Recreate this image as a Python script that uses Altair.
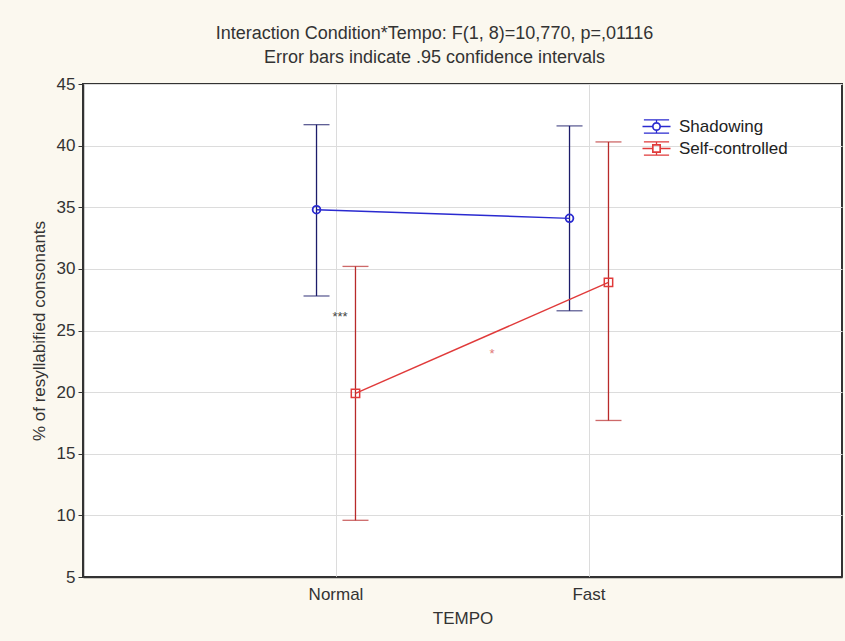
import altair as alt
import pandas as pd

tempo = ["Normal", "Fast"]
conditions = ["Shadowing", "Self-controlled"]

shadowing_mean = [34.8, 34.1]
shadowing_low = [27.8, 26.6]
shadowing_high = [41.7, 41.6]

self_mean = [19.9, 28.9]
self_low = [9.6, 17.7]
self_high = [30.2, 40.3]

y_ticks = [5, 10, 15, 20, 25, 30, 35, 40, 45]

annot1_text = ["***"]
annot1_tempo = ["Normal"]
annot1_y = [26.3]
annot2_text = ["*"]
annot2_tempo = ["Fast"]
annot2_y = [23.3]

title_lines = [
    "Interaction Condition*Tempo: F(1, 8)=10,770, p=,01116",
    "Error bars indicate .95 confidence intervals",
]
y_title = "% of resyllabified consonants"
x_title = "TEMPO"

# build table
rows = []
for cond, means, lows, highs in [
    (conditions[0], shadowing_mean, shadowing_low, shadowing_high),
    (conditions[1], self_mean, self_low, self_high),
]:
    for t, m, lo, hi in zip(tempo, means, lows, highs):
        rows.append({"tempo": t, "condition": cond, "mean": m, "low": lo, "high": hi})
df = pd.DataFrame(rows)

ann1 = pd.DataFrame({"tempo": annot1_tempo, "y": annot1_y, "label": annot1_text})
ann2 = pd.DataFrame({"tempo": annot2_tempo, "y": annot2_y, "label": annot2_text})

FONT = "Liberation Sans"
line_colors = ["#2a2ad0", "#e03a3a"]
err_colors = ["#1c1c6a", "#b82a2a"]

x_enc = alt.X(
    "tempo:N",
    sort=tempo,
    scale=alt.Scale(domain=tempo, paddingInner=0.846, paddingOuter=0.923),
    axis=alt.Axis(
        title=x_title, labelAngle=0, bandPosition=0.5, grid=True,
        tickSize=0, labelPadding=9, titlePadding=8,
    ),
)
xo_enc = alt.XOffset(
    "condition:N",
    sort=conditions,
    scale=alt.Scale(type="point", domain=conditions, padding=0),
)
y_scale = alt.Scale(domain=[5, 45], nice=False, zero=False)
y_axis = alt.Axis(values=y_ticks, title=y_title, tickSize=5, labelPadding=3, titlePadding=8)


def yq(field):
    return alt.Y(field, type="quantitative", scale=y_scale, axis=y_axis, title=y_title)


base = alt.Chart(df)
color_scale = alt.Scale(domain=conditions, range=line_colors)

# legend glyphs: error-bar look with hollow marker (ring drawn as outer + reversed inner contour)
bars = (
    "M-1.8,-0.95H1.8M-1.8,0.95H1.8M-2,0H-0.55M0.55,0H2"
    "M0,-0.95V-0.55M0,0.55V0.95"
)
path_circle = bars + (
    "M0.55,0A0.55,0.55 0 1,0 -0.55,0A0.55,0.55 0 1,0 0.55,0Z"
    "M0.5,0A0.5,0.5 0 1,1 -0.5,0A0.5,0.5 0 1,1 0.5,0Z"
)
path_square = bars + (
    "M-0.55,-0.55H0.55V0.55H-0.55Z"
    "M-0.5,-0.5V0.5H0.5V-0.5Z"
)

legend_params = dict(
    title=None, orient="none", legendX=565, legendY=34,
    labelFont=FONT, labelFontSize=17, labelColor="#222",
    symbolSize=196, symbolStrokeWidth=1.3, labelOffset=14,
    rowPadding=3, padding=0,
)

legend_layer = base.transform_filter("false").mark_point(
    filled=False, size=196, strokeWidth=1.3, opacity=1
).encode(
    color=alt.Color("condition:N", scale=color_scale, legend=alt.Legend(**legend_params)),
    shape=alt.Shape(
        "condition:N",
        scale=alt.Scale(domain=conditions, range=[path_circle, path_square]),
        legend=alt.Legend(**legend_params),
    ),
)

rules = base.mark_rule(strokeWidth=1.3).encode(
    x=x_enc, xOffset=xo_enc, y=yq("low"), y2="high:Q",
    stroke=alt.Stroke("condition:N", scale=alt.Scale(domain=conditions, range=err_colors), legend=None),
)

caps = base.transform_fold(["low", "high"], as_=["kind", "value"]).mark_tick(
    orient="horizontal", size=26, thickness=1.3
).encode(
    x=x_enc, xOffset=xo_enc, y=yq("value"),
    fill=alt.Fill("condition:N", scale=alt.Scale(domain=conditions, range=err_colors), legend=None),
)

lines = base.mark_line(strokeWidth=1.4).encode(
    x=x_enc, xOffset=xo_enc, y=yq("mean"),
    color=alt.Color("condition:N", scale=color_scale, legend=None),
)

circles = base.transform_filter(alt.datum.condition == conditions[0]).mark_point(
    shape="circle", filled=False, size=60, strokeWidth=1.8, opacity=1
).encode(
    x=x_enc, xOffset=xo_enc, y=yq("mean"),
    color=alt.Color("condition:N", scale=color_scale, legend=None),
)

squares = base.transform_filter(alt.datum.condition == conditions[1]).mark_point(
    shape="square", filled=False, size=70, strokeWidth=1.5, opacity=1
).encode(
    x=x_enc, xOffset=xo_enc, y=yq("mean"),
    color=alt.Color("condition:N", scale=color_scale, legend=None),
)

text1 = alt.Chart(ann1).mark_text(
    font=FONT, fontSize=13, color="#444", dx=4, dy=3, baseline="middle"
).encode(x=x_enc, y=yq("y"), text="label:N")

text2 = alt.Chart(ann2).mark_text(
    font=FONT, fontSize=13, color="#e07878", dx=-97, dy=3, baseline="middle"
).encode(x=x_enc, y=yq("y"), text="label:N")

chart = alt.layer(
    legend_layer, rules, caps, lines, circles, squares, text1, text2
).properties(
    width=759,
    height=493,
    autosize=alt.AutoSizeParams(type="none"),
    padding={"left": 83, "top": 84, "right": 3, "bottom": 64},
    background="#fbf8ef",
    title=alt.TitleParams(
        text=title_lines, font=FONT, fontSize=18, fontWeight="normal",
        color="#333", anchor="middle", dx=-28, offset=8, lineHeight=24,
    ),
).configure_view(
    stroke="#333", strokeWidth=2, fill="white"
).configure_axis(
    labelFont=FONT, titleFont=FONT, labelFontSize=17, titleFontSize=17,
    labelColor="#333", titleColor="#333", titleFontWeight="normal",
    gridColor="#dcdcdc", gridWidth=1, domainColor="#333", domainWidth=1.5,
    tickColor="#333",
)

chart.save("out.html", embed_options={"renderer": "svg", "actions": False})
